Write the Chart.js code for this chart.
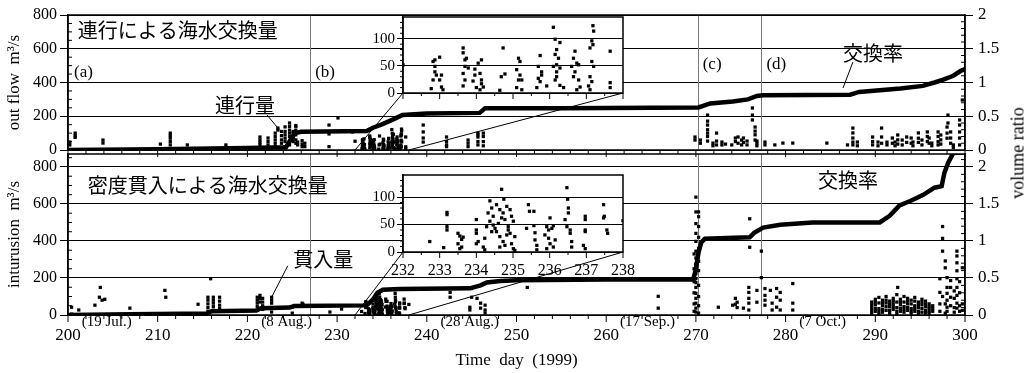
<!DOCTYPE html>
<html>
<head>
<meta charset="utf-8">
<script src="https://cdn.jsdelivr.net/npm/chart.js@4.4.1/dist/chart.umd.min.js"></script>
<style>
  html, body { margin: 0; padding: 0; background: #fff; }
  #wrap { position: relative; width: 1034px; height: 373px; overflow: hidden; background: #fff; }
  #wrap canvas { position: absolute; }
  #vratio { position: absolute; left: 1018px; top: 153px; transform: translate(-50%, -50%) rotate(-90deg);
            font: 18px "Liberation Serif", serif; white-space: nowrap; color: #000; }
</style>
</head>
<body>
<div id="wrap">
  <canvas id="topChart" width="1034" height="160" style="left:0;top:0"></canvas>
  <canvas id="botChart" width="1034" height="223" style="left:0;top:150px"></canvas>
  <canvas id="topInset" width="300" height="95" style="left:340px;top:10px"></canvas>
  <canvas id="botInset" width="300" height="112" style="left:340px;top:168px"></canvas>
  <div id="vratio">volume ratio</div>
</div>
<script>
// ---- values ----
const xTicks = [200, 210, 220, 230, 240, 250, 260, 270, 280, 290, 300];
const dateTickDays = [200, 220, 240, 260, 280];
const dateTickLabels = ["(19 Jul.)", "(8 Aug.)", "(28 Aug.)", "(17 Sep.)", "(7 Oct.)"];
const flowTicks = [0, 200, 400, 600, 800];
const ratioTicks = [0, 0.5, 1, 1.5, 2];
const insetXTicks = [232, 233, 234, 235, 236, 237, 238];
const insetYTicks = [0, 50, 100];
const markerDays = [200, 227, 270.2, 277.3];
const markerLabels = ["(a)", "(b)", "(c)", "(d)"];

// cumulative exchange ratio (right axis)
const ratioTopDay = [200, 210, 220, 224.3, 224.8, 225.3, 226, 233.3, 234, 235, 236.2, 237.3, 240, 245.9, 246.5, 255, 270.3, 271.6, 274.1, 275.8, 276.8, 277.5, 287.2, 288.2, 292.8, 295.3, 296.6, 297.5, 298.7, 299.5, 300];
const ratioTopVal = [0, 0.01, 0.03, 0.04, 0.15, 0.25, 0.27, 0.28, 0.33, 0.38, 0.45, 0.52, 0.54, 0.55, 0.62, 0.62, 0.63, 0.69, 0.72, 0.75, 0.80, 0.81, 0.82, 0.86, 0.91, 0.95, 1.00, 1.04, 1.10, 1.17, 1.20];
const ratioBotDay = [200, 207, 215.5, 216, 221, 221.5, 224.7, 225.2, 233.3, 234, 234.5, 235.1, 237, 244.8, 246, 246.7, 248.2, 250, 260, 269.7, 270, 270.3, 270.6, 271, 276, 276.5, 277.5, 279.4, 283, 290.5, 291.6, 292.7, 293.9, 295.3, 296.6, 297.4, 297.7, 298.1, 298.7, 300];
const ratioBotVal = [0, 0.01, 0.02, 0.05, 0.06, 0.09, 0.10, 0.12, 0.13, 0.21, 0.30, 0.34, 0.35, 0.36, 0.40, 0.44, 0.46, 0.47, 0.48, 0.48, 0.62, 0.85, 0.98, 1.03, 1.05, 1.11, 1.18, 1.22, 1.25, 1.25, 1.34, 1.48, 1.54, 1.62, 1.72, 1.74, 1.92, 2.05, 2.19, 2.2];

// scatter columns: [day, value, value, ...]  (m3/s)
const insetOutCols = [
  [232.0, 52], [232.77, 8], [232.82, 58, 24], [232.87, 61, 49, 39], [232.91, 33], [233.0, 66, 24],
  [233.05, 33, 11], [233.09, 6], [233.64, 83, 74, 36, 13], [233.69, 61, 49, 24], [233.73, 64],
  [233.78, 46], [233.91, 22], [233.96, 44, 33], [234.0, 10], [234.05, 55], [234.1, 36, 6],
  [234.14, 61, 24, 17], [234.19, 11], [234.64, 5], [234.68, 30], [234.73, 83], [234.78, 35],
  [235.1, 43, 10], [235.15, 64, 24], [235.19, 58, 33], [235.24, 24, 6], [235.65, 10], [235.69, 49, 27],
  [235.74, 69, 21], [235.78, 39, 33], [235.92, 13], [236.1, 121, 49], [236.15, 99, 71, 24],
  [236.19, 80, 52, 39, 30], [236.24, 64], [236.28, 93, 46, 14], [236.38, 10], [236.6, 49],
  [236.65, 64, 30], [236.69, 77, 39], [236.74, 55, 6], [236.79, 52, 24], [236.83, 11], [237.06, 13],
  [237.1, 83, 30, 6], [237.15, 96, 58, 21], [237.18, 124, 89], [237.2, 114, 49], [237.65, 77, 19, 10]
];
const outflowCols = [
  [200.2, 47, 30], [200.8, 100, 85, 75], [203.9, 59, 41], [210.3, 35], [211.4, 100, 85, 70, 50, 30],
  [213.3, 30], [217.6, 30], [221.4, 77, 60, 45, 30, 15], [222.3, 71, 50, 30], [223.1, 100, 80, 60, 40, 20],
  [223.4, 130, 118], [223.8, 110, 85, 60, 40], [224.2, 137, 110, 90, 70, 50, 20],
  [224.7, 160, 140, 118, 100, 80, 55, 30], [225.1, 110, 100, 70, 50], [225.4, 145, 137, 115, 90, 60, 40],
  [225.6, 47, 30], [226.1, 55, 35, 20], [226.4, 40, 20], [229.1, 148, 95, 20], [230.1, 190], [231.7, 107],
  [239.6, 148, 107, 71, 47], [242.2, 77, 50, 30, 20], [244.6, 59, 40, 20], [245.7, 100, 89, 77, 50, 30],
  [246.3, 100, 80, 50, 25], [269.9, 77, 59], [270.5, 59, 40], [271.3, 207, 171, 148, 120, 100, 80, 53],
  [271.9, 41, 25], [272.3, 100, 53, 30], [272.9, 47, 30], [273.3, 35], [274.0, 30], [274.4, 71, 50],
  [274.7, 77, 40], [275.1, 59, 30], [275.3, 71, 45], [275.7, 53, 30], [276.3, 249, 207, 178],
  [276.6, 136, 112, 90, 59], [276.8, 53, 41, 25], [277.7, 47, 30], [278.8, 30], [279.7, 41], [280.8, 41],
  [284.6, 41], [286.9, 30], [287.5, 130, 101, 71, 47, 30], [288.0, 47, 25], [289.7, 77, 50, 30],
  [290.3, 47, 25], [290.7, 130, 77, 40], [291.3, 47, 30], [291.9, 71, 40], [292.2, 47, 25],
  [292.5, 89, 60, 35], [293.0, 59, 30], [293.5, 77, 45], [294.0, 71, 40], [294.2, 47, 25],
  [294.8, 101, 70, 45], [295.2, 59, 30], [295.8, 107, 80, 50], [296.0, 71, 40], [296.3, 41, 25],
  [297.0, 107, 80, 50, 30], [297.3, 89, 60, 35], [298.0, 136, 100, 70], [298.1, 207, 160],
  [298.4, 107, 71, 40], [298.7, 30, 15], [299.4, 178, 148, 107, 71, 30], [299.7, 296]
];
const insetIntCols = [
  [232.73, 19], [233.11, 8], [233.2, 72, 68, 46, 40], [233.5, 34, 15], [233.55, 29, 6], [233.6, 23, 9],
  [233.64, 27], [234.0, 59, 40, 34, 15], [234.05, 19], [234.19, 9], [234.23, 25, 4], [234.28, 46],
  [234.32, 71], [234.37, 93, 56], [234.42, 80, 37], [234.46, 65, 49], [234.51, 43], [234.55, 86, 37],
  [234.6, 52], [234.64, 77, 28, 9], [234.69, 114, 62], [234.73, 71, 19], [234.75, 96], [234.78, 59, 12],
  [234.83, 83, 31], [234.87, 46, 40], [234.92, 77, 34], [234.96, 65, 15], [235.01, 56, 6], [235.05, 28, 3],
  [235.37, 43], [235.42, 86], [235.45, 74], [235.57, 74, 48], [235.6, 35, 22], [235.65, 12, 4],
  [235.87, 31], [235.92, 46, 6], [235.97, 40, 25], [236.01, 62, 15], [236.06, 43], [236.1, 48, 9],
  [236.15, 22], [236.42, 59], [236.47, 117, 46], [236.49, 96], [236.51, 80, 71], [236.56, 40, 34],
  [236.6, 19, 9], [236.92, 12], [236.97, 65, 59, 40, 37, 6], [237.47, 86, 62], [237.49, 65],
  [237.56, 40], [237.58, 34], [238.0, 57]
];
const intrusionCols = [
  [200.4, 42, 5], [201.2, 27], [203.0, 53], [203.5, 96], [203.6, 149], [203.8, 80], [204.1, 85],
  [206.9, 37], [210.8, 133], [210.9, 96], [214.5, 58], [215.6, 96, 80, 60, 40, 20], [215.9, 196],
  [216.2, 96, 80, 64, 45, 25], [216.9, 96, 75, 53, 35], [221.1, 96, 80, 64, 45, 25], [221.4, 106, 90, 70],
  [221.7, 90, 70, 50, 30], [222.7, 96, 80, 64, 40, 16], [225.0, 42, 10], [226.1, 64], [226.2, 58],
  [229.2, 16], [230.5, 32], [242.6, 122, 96], [244.8, 42, 27], [245.0, 143, 96], [245.6, 90],
  [246.0, 64, 37], [246.5, 53, 27, 11], [251.2, 149], [265.8, 101, 37],
  [269.8, 330, 250, 180, 120, 60, 20],
  [270.0, 637, 557, 494, 441, 398, 345, 308, 276, 223, 196, 175, 149, 117, 90, 64, 37, 16],
  [270.3, 557, 531, 478, 420, 360, 290, 240, 160, 100, 50, 10],
  [272.5, 42], [274.1, 53], [274.4, 90, 58], [274.6, 69, 40], [275.3, 37],
  [275.9, 149, 122, 90, 64, 27], [276.0, 520, 366], [276.8, 133, 69], [277.3, 345, 202], [277.7, 143, 106, 80, 53],
  [278.3, 133], [278.5, 64, 27], [279.0, 143, 96, 42], [279.4, 122, 80, 27], [280.8, 170, 64, 27],
  [289.6, 70, 55, 40, 25, 10], [290.0, 85, 70, 55, 35, 20], [290.4, 95, 65, 35, 20, 5],
  [290.8, 80, 65, 50, 30, 15], [291.2, 100, 80, 65, 45, 25], [291.6, 75, 60, 45, 25, 10],
  [292.0, 90, 75, 60, 45, 30], [292.4, 110, 70, 40, 20, 5], [292.5, 149], [292.8, 85, 70, 55, 35, 20],
  [293.2, 100, 70, 45, 30, 15], [293.6, 90, 75, 60, 40, 25], [294.0, 80, 60, 35, 20, 10],
  [294.4, 95, 75, 50, 35, 20], [294.8, 70, 55, 40, 20, 5], [295.2, 85, 70, 55, 35, 15],
  [295.6, 75, 60, 45, 25, 10], [296.0, 60, 45, 35, 20, 10], [296.4, 50, 35, 20],
  [297.2, 196, 122, 60, 20], [297.5, 478, 414, 345, 100], [297.8, 292, 255, 60, 10],
  [298.0, 202, 149, 117, 80, 42, 20], [298.4, 186, 149, 96, 50], [298.8, 130, 90, 40, 15],
  [299.1, 345, 319, 282, 239, 196, 149, 106, 64, 37], [299.4, 180, 120, 50, 20], [299.7, 255, 60, 25]
];

// ---- drawing ----
const SERIF = '"Liberation Serif", "DejaVu Serif", serif';
const CJK = '"Noto Sans CJK JP", "Noto Sans CJK SC", sans-serif';

const flatten = (cols) => cols.flatMap(c => c.slice(1).map(v => ({ x: c[0], y: v })));
const pairs = (days, vals) => days.map((d, i) => ({ x: d, y: vals[i] }));
const setTicks = (vals) => (s) => { s.ticks = vals.map(v => ({ value: v })); };
// pin axis box sizes so the stacked canvases line up
const fixBox = (w, h) => (s) => {
    if (w != null) s.width = w;
    if (h != null) s.height = h;
    s.paddingTop = s.paddingBottom = s.paddingLeft = s.paddingRight = 0;
};
const seg = (ctx, x1, y1, x2, y2) => { ctx.beginPath(); ctx.moveTo(x1, y1); ctx.lineTo(x2, y2); ctx.stroke(); };

function panelDecor(cfg) {
    return {
        id: "decor",
        beforeDatasetsDraw(chart) {
            const { ctx, chartArea: a, scales: { x } } = chart;
            ctx.save();
            ctx.strokeStyle = "#777";
            ctx.lineWidth = 1;
            markerDays.slice(1).forEach(d => {
                const px = Math.round(x.getPixelForValue(d)) + 0.5;
                seg(ctx, px, a.top, px, a.bottom);
            });
            ctx.restore();
        },
        afterDraw(chart) {
            const { ctx, chartArea: a, scales: { x, y, y2 } } = chart;
            ctx.save();
            ctx.strokeStyle = "#000";
            ctx.fillStyle = "#000";
            ctx.lineWidth = 1.5;
            ctx.strokeRect(a.left, a.top, a.width, a.height);
            ctx.lineWidth = 1;
            for (let d = 200; d <= 300; d += 2) {
                const px = x.getPixelForValue(d);
                seg(ctx, px, a.bottom, px, a.bottom + (d % 10 === 0 ? 7 : 4));
            }
            for (let v = 50; v < y.max; v += 50) {
                if (v % 200 === 0) continue;
                const py = y.getPixelForValue(v);
                seg(ctx, a.left, py, a.left + 4, py);
            }
            for (let k = 1; k / 10 < y2.max; k++) {
                if (k % 5 === 0) continue;
                const py = y2.getPixelForValue(k / 10);
                seg(ctx, a.right - 4, py, a.right, py);
            }
            // connectors from the zoom window to the inset box
            const inset = cfg.inset;
            if (inset) {
                const ia = inset.chartArea;
                const dx = inset.canvas.offsetLeft - chart.canvas.offsetLeft;
                const dy = inset.canvas.offsetTop - chart.canvas.offsetTop;
                const y0 = y.getPixelForValue(0);
                seg(ctx, x.getPixelForValue(insetXTicks[0]), y0, ia.left + dx, ia.bottom + dy);
                seg(ctx, x.getPixelForValue(insetXTicks[insetXTicks.length - 1]), y0, ia.right + dx, ia.bottom + dy);
            }
            cfg.leaders.forEach(l => seg(ctx, x.getPixelForValue(l[0]), y.getPixelForValue(l[1]),
                                              x.getPixelForValue(l[2]), y.getPixelForValue(l[3])));
            ctx.textAlign = "left";
            ctx.textBaseline = "middle";
            cfg.notes.forEach(n => {
                ctx.font = n.font;
                ctx.fillText(n.text, x.getPixelForValue(n.x), y.getPixelForValue(n.y));
            });
            if (cfg.markerY != null) {
                ctx.font = "17px " + SERIF;
                markerDays.forEach((d, i) => {
                    ctx.fillText(markerLabels[i], x.getPixelForValue(d) + (i === 0 ? 6 : 5), y.getPixelForValue(cfg.markerY[i]));
                });
            }
            if (cfg.xLabels) {
                dateTickDays.forEach((d, i) => {
                    ctx.font = "17px " + SERIF;
                    const w = ctx.measureText(String(d)).width;
                    ctx.font = "15px " + SERIF;
                    ctx.fillText(dateTickLabels[i], x.getPixelForValue(d) + w / 2 + 1, a.bottom + 7);
                });
            }
            ctx.restore();
        }
    };
}

function makePanel(id, cfg) {
    return new Chart(document.getElementById(id), {
        type: "scatter",
        data: {
            datasets: [
                { data: pairs(cfg.ratioDay, cfg.ratioVal), yAxisID: "y2", showLine: true, pointRadius: 0,
                  borderColor: "#000", borderWidth: 4.5, order: 0 },
                { data: cfg.points, yAxisID: "y", pointStyle: "rect", pointRadius: 2.3,
                  backgroundColor: "#000", borderWidth: 0, order: 1 },
            ],
        },
        options: {
            responsive: false,
            animation: false,
            devicePixelRatio: 1,
            layout: { padding: { left: 4, top: cfg.padTop, right: 0, bottom: 0 } },
            plugins: { legend: { display: false }, tooltip: { enabled: false } },
            scales: {
                x: {
                    type: "linear", min: 200, max: 300,
                    grid: { display: false, drawTicks: false },
                    border: { display: false },
                    ticks: { display: cfg.xLabels, padding: 10, color: "#000", font: { family: SERIF, size: 17 } },
                    title: { display: cfg.xLabels, text: "Time  day  (1999)", color: "#000",
                             font: { family: SERIF, size: 17 }, padding: { top: 0, bottom: 2 } },
                    afterBuildTicks: setTicks(xTicks),
                    afterFit: fixBox(null, cfg.xHeight),
                },
                y: {
                    position: "left", min: 0, max: cfg.yMax,
                    grid: { color: "#000", lineWidth: 1, tickLength: 8 },
                    border: { color: "#000", width: 1.5 },
                    ticks: { color: "#000", padding: 3, font: { family: SERIF, size: 16 } },
                    title: { display: true, text: cfg.yTitle, color: "#000",
                             font: { family: SERIF, size: 17 }, padding: { top: 0, bottom: 0 } },
                    afterBuildTicks: setTicks(flowTicks),
                    afterFit: fixBox(64, null),
                },
                y2: {
                    position: "right", min: 0, max: cfg.yMax / 400,
                    grid: { drawOnChartArea: false, color: "#000", tickLength: 8 },
                    border: { color: "#000", width: 1.5 },
                    ticks: { color: "#000", padding: 5, font: { family: SERIF, size: 17 }, callback: v => String(v) },
                    afterBuildTicks: setTicks(ratioTicks),
                    afterFit: fixBox(69, null),
                },
            },
        },
        plugins: [panelDecor(cfg)],
    });
}

const insetDecor = {
    id: "insetDecor",
    beforeDraw(chart) {
        const a = chart.chartArea;
        chart.ctx.save();
        chart.ctx.fillStyle = "#fff";
        chart.ctx.fillRect(a.left, a.top, a.width, a.height);
        chart.ctx.restore();
    },
    afterDraw(chart) {
        const { ctx, chartArea: a, scales: { x, y } } = chart;
        ctx.save();
        ctx.strokeStyle = "#000";
        ctx.lineWidth = 1.5;
        ctx.strokeRect(a.left, a.top, a.width, a.height);
        ctx.lineWidth = 1;
        for (let k = 0; k <= 12; k++) {
            const px = x.getPixelForValue(232 + k / 2);
            seg(ctx, px, a.bottom, px, a.bottom + (k % 2 === 0 ? 6 : 3));
        }
        for (let v = 10; v < y.max; v += 10) {
            if (v % 50 === 0) continue;
            const py = y.getPixelForValue(v);
            seg(ctx, a.left - 3, py, a.left, py);
        }
        ctx.restore();
    }
};

function makeInset(id, cols, xLabels, xHeight) {
    return new Chart(document.getElementById(id), {
        type: "scatter",
        data: { datasets: [{ data: flatten(cols), pointStyle: "rect", pointRadius: 2.3, backgroundColor: "#000", borderWidth: 0 }] },
        options: {
            responsive: false,
            animation: false,
            devicePixelRatio: 1,
            layout: { padding: { left: 0, top: 7, right: 17, bottom: 0 } },
            plugins: { legend: { display: false }, tooltip: { enabled: false } },
            scales: {
                x: {
                    type: "linear", min: 232, max: 238,
                    grid: { display: false, drawTicks: false },
                    border: { display: false },
                    ticks: { display: xLabels, padding: 9, color: "#000", font: { family: SERIF, size: 16 } },
                    afterBuildTicks: setTicks(insetXTicks),
                    afterFit: fixBox(null, xHeight),
                },
                y: {
                    min: 0, max: 140,
                    grid: { color: "#000", lineWidth: 1, tickLength: 6 },
                    border: { color: "#000", width: 1.5 },
                    ticks: { color: "#000", padding: 2, font: { family: SERIF, size: 15 } },
                    afterBuildTicks: setTicks(insetYTicks),
                    afterFit: fixBox(63, null),
                },
            },
        },
        plugins: [insetDecor],
    });
}

const topInset = makeInset("topInset", insetOutCols, false, 12);
const botInset = makeInset("botInset", insetIntCols, true, 28);

makePanel("topChart", {
    ratioDay: ratioTopDay, ratioVal: ratioTopVal,
    points: flatten(outflowCols).concat(flatten(insetOutCols)),
    yMax: 800, padTop: 15, xLabels: false, xHeight: 10,
    yTitle: "out flow  m³/s",
    inset: topInset,
    markerY: [462, 462, 504, 504],
    notes: [
        { text: "連行による海水交換量", x: 201.1, y: 711, font: "20px " + CJK },
        { text: "連行量", x: 216.4, y: 267, font: "20px " + CJK },
        { text: "交換率", x: 286.4, y: 575, font: "20px " + CJK },
    ],
    leaders: [[222.2, 207, 223.4, 130], [287.5, 521, 286.4, 367]],
});

makePanel("botChart", {
    ratioDay: ratioBotDay, ratioVal: ratioBotVal,
    points: flatten(intrusionCols).concat(flatten(insetIntCols)),
    yMax: 870, padTop: 1, xLabels: true, xHeight: 58,
    yTitle: "inturusion  m³/s",
    inset: botInset,
    markerY: null,
    notes: [
        { text: "密度貫入による海水交換量", x: 202.2, y: 701, font: "20px " + CJK },
        { text: "貫入量", x: 225.1, y: 303, font: "20px " + CJK },
        { text: "交換率", x: 283.6, y: 728, font: "20px " + CJK },
    ],
    leaders: [[224.5, 266, 222.7, 96]],
});
</script>
</body>
</html>
